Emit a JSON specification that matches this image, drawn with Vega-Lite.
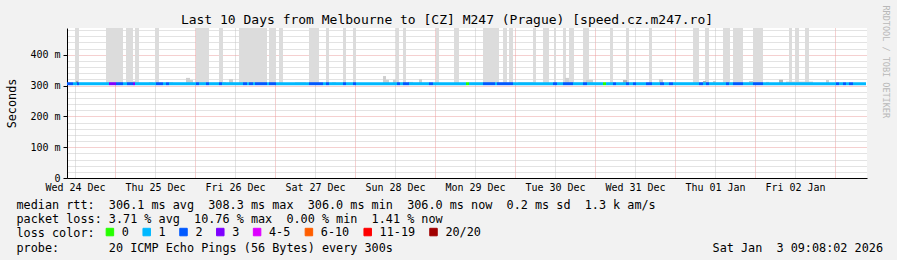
{
  "$schema": "https://vega.github.io/schema/vega-lite/v6.json",
  "width": 800,
  "height": 150,
  "autosize": {"type": "none"},
  "padding": {"left": 67, "top": 28, "right": 30, "bottom": 82},
  "background": "#f2f2f2",
  "title": {
    "text": "Last 10 Days from Melbourne to [CZ] M247 (Prague) [speed.cz.m247.ro]",
    "font": "DejaVu Sans Mono", "fontSize": 13, "fontWeight": "normal", "color": "#000000",
    "anchor": "middle", "frame": "group", "baseline": "alphabetic", "offset": 0, "dx": -20, "dy": 32
  },
  "config": {"view": {"stroke": null, "fill": "#ffffff"}, "axis": {"zindex": 1}},
  "datasets": {
    "smoke": [
      {"h0": 12.0, "h1": 13.2, "lo": 0.305, "hi": 0.487, "level": "max"},
      {"h0": 21.3, "h1": 26.4, "lo": 0.305, "hi": 0.487, "level": "max"},
      {"h0": 27.3, "h1": 29.4, "lo": 0.305, "hi": 0.487, "level": "max"},
      {"h0": 30.0, "h1": 31.2, "lo": 0.305, "hi": 0.487, "level": "max"},
      {"h0": 36.0, "h1": 37.2, "lo": 0.305, "hi": 0.487, "level": "max"},
      {"h0": 48.3, "h1": 52.2, "lo": 0.305, "hi": 0.487, "level": "max"},
      {"h0": 55.2, "h1": 56.4, "lo": 0.305, "hi": 0.487, "level": "max"},
      {"h0": 61.2, "h1": 69.6, "lo": 0.305, "hi": 0.487, "level": "max"},
      {"h0": 70.2, "h1": 72.3, "lo": 0.305, "hi": 0.487, "level": "max"},
      {"h0": 73.2, "h1": 74.4, "lo": 0.305, "hi": 0.487, "level": "max"},
      {"h0": 82.2, "h1": 85.2, "lo": 0.305, "hi": 0.487, "level": "max"},
      {"h0": 87.3, "h1": 88.2, "lo": 0.305, "hi": 0.487, "level": "max"},
      {"h0": 92.4, "h1": 93.3, "lo": 0.305, "hi": 0.487, "level": "max"},
      {"h0": 95.4, "h1": 96.3, "lo": 0.305, "hi": 0.487, "level": "max"},
      {"h0": 108.3, "h1": 109.2, "lo": 0.305, "hi": 0.487, "level": "max"},
      {"h0": 110.4, "h1": 111.3, "lo": 0.305, "hi": 0.487, "level": "max"},
      {"h0": 120.3, "h1": 121.2, "lo": 0.305, "hi": 0.487, "level": "max"},
      {"h0": 125.7, "h1": 127.2, "lo": 0.305, "hi": 0.487, "level": "max"},
      {"h0": 134.4, "h1": 139.2, "lo": 0.305, "hi": 0.487, "level": "max"},
      {"h0": 140.4, "h1": 141.6, "lo": 0.305, "hi": 0.487, "level": "max"},
      {"h0": 142.2, "h1": 143.4, "lo": 0.305, "hi": 0.487, "level": "max"},
      {"h0": 149.4, "h1": 150.3, "lo": 0.305, "hi": 0.487, "level": "max"},
      {"h0": 152.4, "h1": 154.2, "lo": 0.305, "hi": 0.487, "level": "max"},
      {"h0": 155.7, "h1": 156.3, "lo": 0.305, "hi": 0.487, "level": "max"},
      {"h0": 158.4, "h1": 159.3, "lo": 0.305, "hi": 0.487, "level": "max"},
      {"h0": 160.2, "h1": 161.7, "lo": 0.305, "hi": 0.487, "level": "max"},
      {"h0": 164.4, "h1": 166.2, "lo": 0.305, "hi": 0.487, "level": "max"},
      {"h0": 172.5, "h1": 173.4, "lo": 0.305, "hi": 0.487, "level": "max"},
      {"h0": 177.3, "h1": 178.2, "lo": 0.305, "hi": 0.487, "level": "max"},
      {"h0": 184.2, "h1": 185.1, "lo": 0.305, "hi": 0.487, "level": "max"},
      {"h0": 197.4, "h1": 199.2, "lo": 0.305, "hi": 0.487, "level": "max"},
      {"h0": 201.0, "h1": 202.2, "lo": 0.305, "hi": 0.487, "level": "max"},
      {"h0": 206.4, "h1": 208.5, "lo": 0.305, "hi": 0.487, "level": "max"},
      {"h0": 209.4, "h1": 212.4, "lo": 0.305, "hi": 0.487, "level": "max"},
      {"h0": 215.4, "h1": 218.4, "lo": 0.305, "hi": 0.487, "level": "max"},
      {"h0": 226.2, "h1": 227.1, "lo": 0.305, "hi": 0.487, "level": "max"},
      {"h0": 228.0, "h1": 229.2, "lo": 0.305, "hi": 0.487, "level": "max"},
      {"h0": 231.0, "h1": 232.2, "lo": 0.305, "hi": 0.487, "level": "max"},
      {"h0": 12.3, "h1": 12.9, "lo": 0.305, "hi": 0.313, "level": "core"},
      {"h0": 29.4, "h1": 30.3, "lo": 0.305, "hi": 0.314, "level": "upper"},
      {"h0": 34.2, "h1": 35.4, "lo": 0.305, "hi": 0.311, "level": "upper"},
      {"h0": 40.2, "h1": 41.4, "lo": 0.305, "hi": 0.311, "level": "upper"},
      {"h0": 45.3, "h1": 46.5, "lo": 0.305, "hi": 0.325, "level": "upper"},
      {"h0": 46.5, "h1": 47.4, "lo": 0.305, "hi": 0.318, "level": "upper"},
      {"h0": 56.1, "h1": 57.3, "lo": 0.305, "hi": 0.311, "level": "upper"},
      {"h0": 58.2, "h1": 59.4, "lo": 0.305, "hi": 0.321, "level": "upper"},
      {"h0": 78.0, "h1": 81.3, "lo": 0.305, "hi": 0.311, "level": "upper"},
      {"h0": 89.1, "h1": 90.3, "lo": 0.305, "hi": 0.311, "level": "upper"},
      {"h0": 104.4, "h1": 105.3, "lo": 0.305, "hi": 0.331, "level": "upper"},
      {"h0": 105.3, "h1": 106.2, "lo": 0.305, "hi": 0.319, "level": "upper"},
      {"h0": 107.4, "h1": 108.3, "lo": 0.305, "hi": 0.319, "level": "upper"},
      {"h0": 111.9, "h1": 113.4, "lo": 0.305, "hi": 0.312, "level": "upper"},
      {"h0": 115.2, "h1": 116.1, "lo": 0.305, "hi": 0.321, "level": "upper"},
      {"h0": 144.9, "h1": 149.4, "lo": 0.305, "hi": 0.311, "level": "upper"},
      {"h0": 159.0, "h1": 160.2, "lo": 0.305, "hi": 0.325, "level": "upper"},
      {"h0": 165.3, "h1": 167.4, "lo": 0.305, "hi": 0.319, "level": "upper"},
      {"h0": 176.4, "h1": 177.6, "lo": 0.305, "hi": 0.318, "level": "mid"},
      {"h0": 187.2, "h1": 188.4, "lo": 0.305, "hi": 0.321, "level": "upper"},
      {"h0": 200.4, "h1": 201.3, "lo": 0.305, "hi": 0.315, "level": "mid"},
      {"h0": 203.4, "h1": 204.3, "lo": 0.305, "hi": 0.315, "level": "upper"},
      {"h0": 214.2, "h1": 215.4, "lo": 0.305, "hi": 0.315, "level": "upper"},
      {"h0": 219.3, "h1": 220.2, "lo": 0.305, "hi": 0.312, "level": "upper"},
      {"h0": 223.2, "h1": 224.4, "lo": 0.305, "hi": 0.319, "level": "mid"},
      {"h0": 225.3, "h1": 233.4, "lo": 0.305, "hi": 0.313, "level": "upper"},
      {"h0": 237.3, "h1": 238.2, "lo": 0.305, "hi": 0.318, "level": "upper"}
    ],
    "median": [
      {"h0": 9.6, "h1": 11.4, "rtt": 0.3061, "loss": "2"},
      {"h0": 11.4, "h1": 12.6, "rtt": 0.3061, "loss": "1"},
      {"h0": 12.6, "h1": 13.2, "rtt": 0.3061, "loss": "2"},
      {"h0": 13.2, "h1": 22.2, "rtt": 0.3061, "loss": "1"},
      {"h0": 22.2, "h1": 24.3, "rtt": 0.3061, "loss": "3"},
      {"h0": 24.3, "h1": 26.4, "rtt": 0.3061, "loss": "2"},
      {"h0": 26.4, "h1": 27.6, "rtt": 0.3061, "loss": "1"},
      {"h0": 27.6, "h1": 29.4, "rtt": 0.3061, "loss": "2"},
      {"h0": 29.4, "h1": 30.0, "rtt": 0.3061, "loss": "3"},
      {"h0": 30.0, "h1": 36.3, "rtt": 0.3061, "loss": "1"},
      {"h0": 36.3, "h1": 38.4, "rtt": 0.3061, "loss": "2"},
      {"h0": 38.4, "h1": 39.3, "rtt": 0.3061, "loss": "1"},
      {"h0": 39.3, "h1": 40.2, "rtt": 0.3061, "loss": "2"},
      {"h0": 40.2, "h1": 48.3, "rtt": 0.3061, "loss": "1"},
      {"h0": 48.3, "h1": 49.2, "rtt": 0.3061, "loss": "2"},
      {"h0": 49.2, "h1": 51.3, "rtt": 0.3061, "loss": "1"},
      {"h0": 51.3, "h1": 52.2, "rtt": 0.3061, "loss": "2"},
      {"h0": 52.2, "h1": 55.2, "rtt": 0.3061, "loss": "1"},
      {"h0": 55.2, "h1": 56.1, "rtt": 0.3061, "loss": "2"},
      {"h0": 56.1, "h1": 62.4, "rtt": 0.3061, "loss": "1"},
      {"h0": 62.4, "h1": 63.6, "rtt": 0.3061, "loss": "2"},
      {"h0": 63.6, "h1": 64.2, "rtt": 0.3061, "loss": "1"},
      {"h0": 64.2, "h1": 65.4, "rtt": 0.3061, "loss": "2"},
      {"h0": 65.4, "h1": 66.0, "rtt": 0.3061, "loss": "1"},
      {"h0": 66.0, "h1": 69.6, "rtt": 0.3061, "loss": "2"},
      {"h0": 69.6, "h1": 70.2, "rtt": 0.3061, "loss": "1"},
      {"h0": 70.2, "h1": 72.3, "rtt": 0.3061, "loss": "2"},
      {"h0": 72.3, "h1": 82.2, "rtt": 0.3061, "loss": "1"},
      {"h0": 82.2, "h1": 86.4, "rtt": 0.3061, "loss": "2"},
      {"h0": 86.4, "h1": 87.3, "rtt": 0.3061, "loss": "1"},
      {"h0": 87.3, "h1": 88.2, "rtt": 0.3061, "loss": "2"},
      {"h0": 88.2, "h1": 92.4, "rtt": 0.3061, "loss": "1"},
      {"h0": 92.4, "h1": 93.3, "rtt": 0.3061, "loss": "2"},
      {"h0": 93.3, "h1": 95.4, "rtt": 0.3061, "loss": "1"},
      {"h0": 95.4, "h1": 96.3, "rtt": 0.3061, "loss": "2"},
      {"h0": 96.3, "h1": 108.6, "rtt": 0.3061, "loss": "1"},
      {"h0": 108.6, "h1": 109.5, "rtt": 0.3061, "loss": "2"},
      {"h0": 109.5, "h1": 110.4, "rtt": 0.3061, "loss": "1"},
      {"h0": 110.4, "h1": 112.2, "rtt": 0.3061, "loss": "2"},
      {"h0": 112.2, "h1": 118.2, "rtt": 0.3061, "loss": "1"},
      {"h0": 118.2, "h1": 119.4, "rtt": 0.3061, "loss": "2"},
      {"h0": 119.4, "h1": 129.3, "rtt": 0.3061, "loss": "1"},
      {"h0": 129.3, "h1": 130.2, "rtt": 0.3061, "loss": "0"},
      {"h0": 130.2, "h1": 134.4, "rtt": 0.3061, "loss": "1"},
      {"h0": 134.4, "h1": 138.0, "rtt": 0.3061, "loss": "2"},
      {"h0": 138.0, "h1": 138.6, "rtt": 0.3061, "loss": "1"},
      {"h0": 138.6, "h1": 143.4, "rtt": 0.3061, "loss": "2"},
      {"h0": 143.4, "h1": 155.4, "rtt": 0.3061, "loss": "1"},
      {"h0": 155.4, "h1": 156.6, "rtt": 0.3061, "loss": "2"},
      {"h0": 156.6, "h1": 158.4, "rtt": 0.3061, "loss": "1"},
      {"h0": 158.4, "h1": 161.4, "rtt": 0.3061, "loss": "2"},
      {"h0": 161.4, "h1": 164.4, "rtt": 0.3061, "loss": "1"},
      {"h0": 164.4, "h1": 165.6, "rtt": 0.3061, "loss": "2"},
      {"h0": 165.6, "h1": 170.4, "rtt": 0.3061, "loss": "1"},
      {"h0": 170.4, "h1": 171.3, "rtt": 0.3061, "loss": "0"},
      {"h0": 171.3, "h1": 173.4, "rtt": 0.3061, "loss": "1"},
      {"h0": 173.4, "h1": 174.3, "rtt": 0.3061, "loss": "2"},
      {"h0": 174.3, "h1": 177.3, "rtt": 0.3061, "loss": "1"},
      {"h0": 177.3, "h1": 178.2, "rtt": 0.3061, "loss": "2"},
      {"h0": 178.2, "h1": 179.4, "rtt": 0.3061, "loss": "1"},
      {"h0": 179.4, "h1": 180.3, "rtt": 0.3061, "loss": "2"},
      {"h0": 180.3, "h1": 183.3, "rtt": 0.3061, "loss": "1"},
      {"h0": 183.3, "h1": 185.1, "rtt": 0.3061, "loss": "2"},
      {"h0": 185.1, "h1": 187.5, "rtt": 0.3061, "loss": "1"},
      {"h0": 187.5, "h1": 188.7, "rtt": 0.3061, "loss": "2"},
      {"h0": 188.7, "h1": 190.2, "rtt": 0.3061, "loss": "1"},
      {"h0": 190.2, "h1": 191.4, "rtt": 0.3061, "loss": "2"},
      {"h0": 191.4, "h1": 199.2, "rtt": 0.3061, "loss": "1"},
      {"h0": 199.2, "h1": 200.4, "rtt": 0.3061, "loss": "2"},
      {"h0": 200.4, "h1": 201.3, "rtt": 0.3061, "loss": "1"},
      {"h0": 201.3, "h1": 202.2, "rtt": 0.3061, "loss": "2"},
      {"h0": 202.2, "h1": 207.3, "rtt": 0.3061, "loss": "1"},
      {"h0": 207.3, "h1": 208.2, "rtt": 0.3061, "loss": "2"},
      {"h0": 208.2, "h1": 209.4, "rtt": 0.3061, "loss": "1"},
      {"h0": 209.4, "h1": 212.4, "rtt": 0.3061, "loss": "2"},
      {"h0": 212.4, "h1": 215.4, "rtt": 0.3061, "loss": "1"},
      {"h0": 215.4, "h1": 218.4, "rtt": 0.3061, "loss": "2"},
      {"h0": 218.4, "h1": 240.3, "rtt": 0.3061, "loss": "1"},
      {"h0": 240.3, "h1": 241.2, "rtt": 0.3061, "loss": "2"},
      {"h0": 241.2, "h1": 242.4, "rtt": 0.3061, "loss": "1"},
      {"h0": 242.4, "h1": 243.3, "rtt": 0.3061, "loss": "2"},
      {"h0": 243.3, "h1": 244.2, "rtt": 0.3061, "loss": "1"},
      {"h0": 244.2, "h1": 245.4, "rtt": 0.3061, "loss": "2"},
      {"h0": 245.4, "h1": 249.3, "rtt": 0.3060, "loss": "1"}
    ]
  },
  "layer": [
    {
      "data": {"name": "smoke"},
      "mark": {"type": "rect", "clip": true},
      "encoding": {
        "x": {
          "field": "h0", "type": "quantitative",
          "scale": {"domain": [9.6, 249.6], "nice": false, "zero": false},
          "axis": {
            "values": [12,18,24,30,36,42,48,54,60,66,72,78,84,90,96,102,108,114,120,126,132,138,144,150,156,162,168,174,180,186,192,198,204,210,216,222,228,234,240,246],
            "labelExpr": "datum.value % 24 === 12 ? ['Wed 24 Dec','Thu 25 Dec','Fri 26 Dec','Sat 27 Dec','Sun 28 Dec','Mon 29 Dec','Tue 30 Dec','Wed 31 Dec','Thu 01 Jan','Fri 02 Jan','Sat 03 Jan'][floor(datum.value / 24)] : ''",
            "labelFont": "DejaVu Sans Mono", "labelFontSize": 10, "labelColor": "#000000",
            "labelPadding": 4, "labelAngle": 0, "labelOverlap": false, "labelBound": false, "labelFlush": false,
            "ticks": false,
            "domainColor": "#000000", "domainWidth": 1,
            "grid": true,
            "gridColor": {"condition": {"test": "datum.value % 24 === 0", "value": "#eaa0a0"}, "value": "#c6c6c6"},
            "gridDash": [1, 1], "gridWidth": 1, "gridOpacity": 1,
            "title": [
              "median rtt:\u00a0\u00a0306.1 ms avg\u00a0\u00a0308.3 ms max\u00a0\u00a0306.0 ms min\u00a0\u00a0306.0 ms now\u00a0\u00a00.2 ms sd\u00a0\u00a01.3 k am/s",
              "packet loss: 3.71 % avg\u00a0\u00a010.76 % max\u00a0\u00a00.00 % min\u00a0\u00a01.41 % now",
              "loss color:",
              "probe:\u00a0\u00a0\u00a0\u00a0\u00a0\u00a0\u00a020 ICMP Echo Pings (56 Bytes) every 300s\u00a0\u00a0\u00a0\u00a0\u00a0\u00a0\u00a0\u00a0\u00a0\u00a0\u00a0\u00a0\u00a0\u00a0\u00a0\u00a0\u00a0\u00a0\u00a0\u00a0\u00a0\u00a0\u00a0\u00a0\u00a0\u00a0\u00a0\u00a0\u00a0\u00a0\u00a0\u00a0\u00a0\u00a0\u00a0\u00a0\u00a0\u00a0\u00a0\u00a0\u00a0\u00a0\u00a0\u00a0\u00a0Sat Jan\u00a0\u00a03 09:08:02 2026"
            ],
            "titleFont": "DejaVu Sans Mono", "titleFontSize": 11.8, "titleFontWeight": "normal", "titleColor": "#000000",
            "titleAnchor": "start", "titleAlign": "left", "titleBaseline": "alphabetic",
            "titleX": -51, "titleY": 30, "titleLineHeight": 14.4
          }
        },
        "x2": {"field": "h1"},
        "y": {
          "field": "lo", "type": "quantitative",
          "scale": {"domain": [0, 0.487], "nice": false, "zero": false},
          "axis": {
            "values": [0,0.02,0.04,0.06,0.08,0.1,0.12,0.14,0.16,0.18,0.2,0.22,0.24,0.26,0.28,0.3,0.32,0.34,0.36,0.38,0.4,0.42,0.44,0.46,0.48],
            "labelExpr": "round(datum.value * 1000) % 100 === 0 ? (datum.value === 0 ? '0' : round(datum.value * 1000) + ' m') : ''",
            "labelFont": "DejaVu Sans Mono", "labelFontSize": 10, "labelColor": "#000000",
            "labelPadding": 3, "labelOverlap": false, "labelBound": false, "labelFlush": false,
            "tickSize": 4, "tickColor": "#000000",
            "tickOpacity": {"condition": {"test": "round(datum.value * 1000) % 100 === 0", "value": 1}, "value": 0},
            "domainColor": "#000000", "domainWidth": 1,
            "grid": true,
            "gridColor": {"condition": {"test": "round(datum.value * 1000) % 100 === 0", "value": "#eaa0a0"}, "value": "#c6c6c6"},
            "gridDash": [1, 1], "gridWidth": 1, "gridOpacity": 1,
            "title": "Seconds",
            "titleFont": "DejaVu Sans Mono", "titleFontSize": 11.8, "titleFontWeight": "normal", "titleColor": "#000000",
            "titleAngle": 270, "titleAlign": "center", "titleBaseline": "middle", "titleX": -56, "titleY": 75
          }
        },
        "y2": {"field": "hi"},
        "fill": {
          "field": "level", "type": "nominal",
          "scale": {"domain": ["max", "upper", "mid", "core"], "range": ["#dcdcdc", "#cfcfcf", "#b4b4b4", "#7a7a7a"]},
          "legend": null
        }
      }
    },
    {
      "data": {"name": "median"},
      "mark": {"type": "rule", "strokeWidth": 3, "strokeCap": "butt"},
      "encoding": {
        "x": {"field": "h0", "type": "quantitative"},
        "x2": {"field": "h1"},
        "y": {
          "field": "rtt", "type": "quantitative",
          "axis": {
            "orient": "right", "labels": false, "ticks": false, "domain": false, "grid": false,
            "title": "RRDTOOL / TOBI OETIKER",
            "titleFont": "DejaVu Sans Mono", "titleFontSize": 8.5, "titleFontWeight": "normal", "titleColor": "#b8b8b8",
            "titleAngle": 90, "titleAlign": "left", "titleBaseline": "middle", "titleX": 18.5, "titleY": -23
          }
        },
        "color": {
          "field": "loss", "type": "nominal",
          "scale": {
            "domain": ["0", "1", "2", "3", "4-5", "6-10", "11-19", "20/20"],
            "range": ["#26ff00", "#00b8ff", "#0059ff", "#7e00ff", "#dd00ff", "#ff5e00", "#ff0000", "#a10000"]
          },
          "legend": {
            "title": null, "orient": "none", "legendX": 37, "legendY": 198, "direction": "horizontal",
            "symbolType": "square", "symbolSize": 56, "symbolStrokeColor": "#000000", "symbolStrokeWidth": 1, "symbolOpacity": 1,
            "labelFont": "DejaVu Sans Mono", "labelFontSize": 11.8, "labelColor": "#000000", "labelOffset": 6,
            "columnPadding": 11.8, "padding": 0,
            "encode": {"symbols": {"update": {"fill": {"scale": "color", "field": "value"}, "stroke": {"value": "#000000"}, "strokeWidth": {"value": 1}}}}
          }
        }
      }
    }
  ],
  "resolve": {"axis": {"y": "independent"}}
}
